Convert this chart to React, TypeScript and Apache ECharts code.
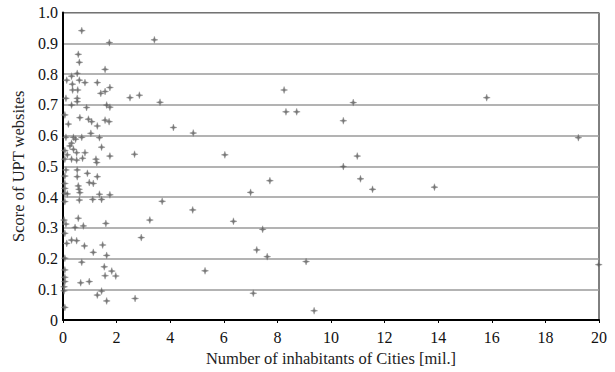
import React, { useEffect, useRef } from "react";
import * as echarts from "echarts";

// Number of inhabitants of cities [mil.]
const inhabitants: number[] = [
  0.70, 1.73, 3.41, 0.57, 0.61, 1.57, 0.53, 0.14, 0.32, 0.61,
  0.35, 0.82, 1.28, 0.55, 0.36, 1.75, 1.57, 1.41, 2.50, 2.85,
  0.11, 0.53, 0.53, 0.32, 0.88, 1.63, 1.75, 3.62, 0.07, 0.63,
  0.95, 1.07, 1.28, 1.57, 1.72, 0.20, 4.12, 1.04, 0.11, 0.39,
  0.47, 0.70, 1.36, 0.32, 0.26, 1.44, 0.07, 0.39, 0.51, 0.82,
  0.16, 0.32, 0.51, 0.73, 1.23, 1.26, 1.75, 2.67, 0.07, 0.11,
  0.53, 0.07, 0.53, 0.91, 1.28, 0.98, 1.13, 0.07, 0.07, 0.57,
  0.60, 0.07, 0.16, 0.63, 1.36, 1.75, 1.11, 1.44, 0.61, 0.07,
  3.70, 0.57, 0.04, 0.11, 0.45, 0.76, 1.60, 3.24, 0.07, 2.92,
  0.14, 0.32, 0.51, 0.80, 1.13, 1.48, 1.63, 0.07, 0.70, 1.54,
  1.57, 1.82, 1.97, 0.07, 0.07, 0.07, 0.66, 0.98, 0.04, 0.04,
  1.28, 1.44, 1.63, 2.69, 0.07,
  4.86, 6.04, 8.25, 8.32, 8.72, 10.46, 10.46, 7.72, 7.00, 4.84,
  6.36, 7.45, 7.23, 7.62, 9.07, 5.30, 7.10, 9.37,
  10.83, 10.98, 11.10, 11.55, 13.86, 15.81, 19.23, 19.99
];

// Score of UPT websites
const scores: number[] = [
  0.941, 0.902, 0.911, 0.864, 0.838, 0.815, 0.802, 0.780, 0.793, 0.780,
  0.767, 0.772, 0.772, 0.748, 0.748, 0.756, 0.743, 0.737, 0.723, 0.731,
  0.721, 0.721, 0.710, 0.699, 0.691, 0.699, 0.692, 0.708, 0.667, 0.658,
  0.653, 0.645, 0.631, 0.650, 0.645, 0.637, 0.626, 0.607, 0.594, 0.594,
  0.588, 0.594, 0.593, 0.575, 0.566, 0.562, 0.551, 0.555, 0.544, 0.544,
  0.537, 0.523, 0.520, 0.526, 0.523, 0.512, 0.533, 0.539, 0.523, 0.488,
  0.488, 0.468, 0.466, 0.477, 0.466, 0.447, 0.444, 0.444, 0.428, 0.436,
  0.425, 0.412, 0.410, 0.414, 0.409, 0.407, 0.392, 0.392, 0.390, 0.385,
  0.386, 0.331, 0.325, 0.312, 0.301, 0.306, 0.314, 0.325, 0.282, 0.268,
  0.249, 0.260, 0.258, 0.241, 0.220, 0.244, 0.210, 0.201, 0.188, 0.173,
  0.144, 0.159, 0.143, 0.163, 0.139, 0.125, 0.121, 0.125, 0.108, 0.095,
  0.081, 0.094, 0.062, 0.070, 0.041,
  0.608, 0.537, 0.748, 0.677, 0.677, 0.648, 0.499, 0.453, 0.415, 0.358,
  0.321, 0.295, 0.228, 0.206, 0.190, 0.160, 0.087, 0.030,
  0.707, 0.533, 0.459, 0.425, 0.432, 0.723, 0.593, 0.180
];

const xTicks: number[] = [0, 2, 4, 6, 8, 10, 12, 14, 16, 18, 20];
const yTicks: string[] = ["0", "0.1", "0.2", "0.3", "0.4", "0.5", "0.6", "0.7", "0.8", "0.9", "1.0"];

const STAR = "path://M5,0 L6.2,3.8 L10,5 L6.2,6.2 L5,10 L3.8,6.2 L0,5 L3.8,3.8 Z";

export default function App() {
  const ref = useRef<HTMLDivElement>(null);
  useEffect(() => {
    if (!ref.current) return;
    const chart = echarts.init(ref.current, undefined, { renderer: "svg" });
    const font = "Liberation Serif";
    const data = inhabitants.map((x, i) => [x, scores[i]]);
    chart.setOption({
      animation: false,
      backgroundColor: "#ffffff",
      textStyle: { fontFamily: font },
      grid: {
        left: 63,
        right: 16,
        top: 12.5,
        bottom: 52,
        containLabel: false,
        outerBoundsMode: "none",
        show: true,
        borderColor: "#000",
        borderWidth: 1,
      },
      xAxis: {
        type: "value",
        min: 0,
        max: 20,
        interval: 2,
        name: "Number of inhabitants of Cities [mil.]",
        nameLocation: "middle",
        nameGap: 29,
        nameTextStyle: { fontFamily: font, fontSize: 16.5, color: "#222" },
        axisLine: { show: true, onZero: false, lineStyle: { color: "#000", width: 2 } },
        axisTick: { show: true, length: 3, lineStyle: { color: "#000" } },
        axisLabel: {
          fontFamily: font,
          fontSize: 16,
          color: "#111",
          margin: 9,
          formatter: (v: number) => (xTicks.includes(v) ? String(v) : ""),
        },
        splitLine: { show: false },
      },
      yAxis: {
        type: "value",
        min: 0,
        max: 1,
        interval: 0.1,
        name: "Score of UPT websites",
        nameLocation: "middle",
        nameGap: 34,
        nameTextStyle: { fontFamily: font, fontSize: 16.5, color: "#222" },
        axisLine: { show: true, onZero: false, lineStyle: { color: "#000", width: 2 } },
        axisTick: { show: false },
        axisLabel: {
          fontFamily: font,
          fontSize: 16,
          color: "#111",
          margin: 5,
          formatter: (v: number) => yTicks[Math.round(v * 10)] ?? "",
        },
        splitLine: { show: true, lineStyle: { color: "#9a9a9a", width: 1.5 } },
      },
      series: [
        {
          type: "scatter",
          data,
          symbol: STAR,
          symbolSize: 7,
          itemStyle: { color: "#555", borderColor: "#888", borderWidth: 0.5 },
        },
      ],
    });
    return () => chart.dispose();
  }, []);
  return (
    <div
      ref={ref}
      style={{ position: "absolute", left: 0, top: 0, width: 615, height: 372 }}
    />
  );
}
